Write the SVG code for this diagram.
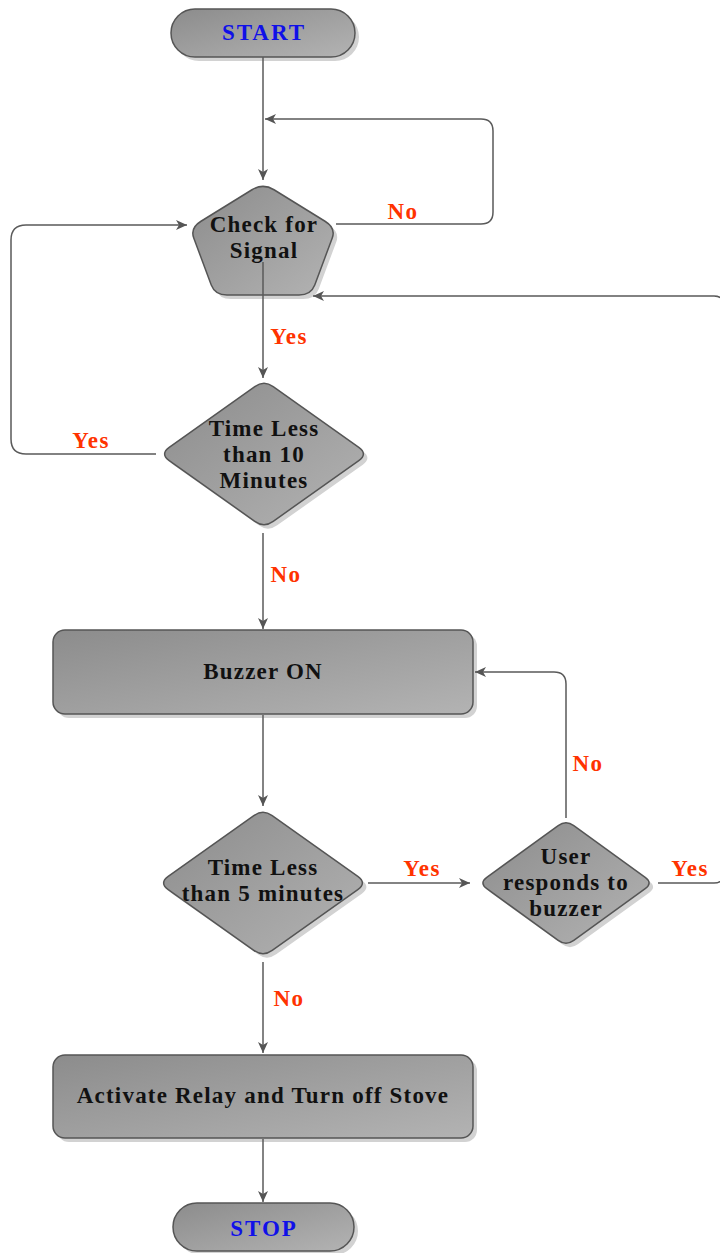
<svg xmlns="http://www.w3.org/2000/svg" width="720" height="1253" viewBox="0 0 720 1253">
<style>
.node{fill:url(#g);stroke:#555;stroke-width:1.5}
.shadow{fill:#d2d2d2}
.t{font-family:"Liberation Serif","Times New Roman",serif;font-weight:bold;font-size:23px;fill:#111;text-anchor:middle;letter-spacing:1.2px}
.term{font-family:"Liberation Serif","Times New Roman",serif;font-weight:bold;font-size:23px;fill:#1010e8;text-anchor:middle;letter-spacing:2px}
.lbl{font-family:"Liberation Serif","Times New Roman",serif;font-weight:bold;font-size:23px;fill:#ff3300;text-anchor:middle;letter-spacing:1.5px}
.c{fill:none;stroke:#5a5a5a;stroke-width:1.5}
</style>
<defs>
<linearGradient id="g" x1="0" y1="0" x2="1" y2="1">
<stop offset="0" stop-color="#8c8c8c"/>
<stop offset="1" stop-color="#b3b3b3"/>
</linearGradient>
<marker id="a" markerUnits="userSpaceOnUse" markerWidth="12" markerHeight="10" refX="11" refY="5" orient="auto">
<path d="M0,0 L11,5 L0,10 L3,5 Z" fill="#555"/>
</marker>
<path id="d1" d="M 9.2,-67.3 L 94.8,-6.7 Q 104,0 94.8,6.7 L 9.2,67.3 Q 0,74 -9.2,67.3 L -94.8,6.7 Q -104,0 -94.8,-6.7 L -9.2,-67.3 Q 0,-74 9.2,-67.3 Z"/>
<path id="d3" d="M 7.8,-57.3 L 79.2,-5.7 Q 87,0 79.2,5.7 L 7.8,57.3 Q 0,63 -7.8,57.3 L -79.2,5.7 Q -87,0 -79.2,-5.7 L -7.8,-57.3 Q 0,-63 7.8,-57.3 Z"/>
</defs>

<g id="start">
<rect class="shadow" x="175" y="13" width="184" height="48" rx="24"/>
<rect class="node" x="171" y="9" width="184" height="48" rx="24"/>
<text class="term" x="264" y="40">START</text>
</g>

<g id="check">
<path class="shadow" transform="translate(4,4)" d="M 274,189.75 L 325,221.25 Q 336,228 332.25,238 L 314.75,285 Q 311,295 299,295 L 227,295 Q 215,295 211.25,285 L 193.75,238 Q 190,228 201,221.25 L 252,189.75 Q 263,183 274,189.75 Z"/>
<path class="node" d="M 274,189.75 L 325,221.25 Q 336,228 332.25,238 L 314.75,285 Q 311,295 299,295 L 227,295 Q 215,295 211.25,285 L 193.75,238 Q 190,228 201,221.25 L 252,189.75 Q 263,183 274,189.75 Z"/>
<text class="t" x="264" y="232">Check for</text>
<text class="t" x="264" y="258">Signal</text>
</g>

<g id="time10">
<use href="#d1" class="shadow" transform="translate(268,458)"/>
<use href="#d1" class="node" transform="translate(264,454)"/>
<text class="t" x="264" y="436">Time Less</text>
<text class="t" x="264" y="462">than 10</text>
<text class="t" x="264" y="488">Minutes</text>
</g>

<g id="buzzer">
<rect class="shadow" x="57" y="634" width="420" height="84" rx="12"/>
<rect class="node" x="53" y="630" width="420" height="84" rx="12"/>
<text class="t" x="263" y="679">Buzzer ON</text>
</g>

<g id="time5">
<use href="#d1" class="shadow" transform="translate(267,887)"/>
<use href="#d1" class="node" transform="translate(263,883)"/>
<text class="t" x="263" y="875">Time Less</text>
<text class="t" x="263" y="901">than 5 minutes</text>
</g>

<g id="user">
<use href="#d3" class="shadow" transform="translate(570,887)"/>
<use href="#d3" class="node" transform="translate(566,883)"/>
<text class="t" x="566" y="864">User</text>
<text class="t" x="566" y="890">responds to</text>
<text class="t" x="566" y="916">buzzer</text>
</g>

<g id="relay">
<rect class="shadow" x="57" y="1059" width="420" height="83" rx="12"/>
<rect class="node" x="53" y="1055" width="420" height="83" rx="12"/>
<text class="t" x="263" y="1103">Activate Relay and Turn off Stove</text>
</g>

<g id="stop">
<rect class="shadow" x="177" y="1207" width="181" height="48" rx="24"/>
<rect class="node" x="173" y="1203" width="181" height="48" rx="24"/>
<text class="term" x="264" y="1236">STOP</text>
</g>

<g id="connectors">
<path class="c" d="M263,57 V180" marker-end="url(#a)"/>
<path class="c" d="M336,224 H481 Q493,224 493,212 V131 Q493,119 481,119 H265" marker-end="url(#a)"/>
<path class="c" d="M263,262 V378" marker-end="url(#a)"/>
<path class="c" d="M156,454 H26 Q11,454 11,439 V240 Q11,225 26,225 H187" marker-end="url(#a)"/>
<path class="c" d="M263,533 V629" marker-end="url(#a)"/>
<path class="c" d="M263,715 V806" marker-end="url(#a)"/>
<path class="c" d="M368,883 H470" marker-end="url(#a)"/>
<path class="c" d="M566,818 V684 Q566,672 554,672 H475" marker-end="url(#a)"/>
<path class="c" d="M658,883 H714 Q724,883 724,873 V306 Q724,296 714,296 H313" marker-end="url(#a)"/>
<path class="c" d="M263,962 V1053" marker-end="url(#a)"/>
<path class="c" d="M263,1139 V1202" marker-end="url(#a)"/>
</g>

<g id="labels">
<text class="lbl" x="403" y="219">No</text>
<text class="lbl" x="289" y="344">Yes</text>
<text class="lbl" x="91" y="448">Yes</text>
<text class="lbl" x="286" y="582">No</text>
<text class="lbl" x="588" y="771">No</text>
<text class="lbl" x="422" y="876">Yes</text>
<text class="lbl" x="690" y="876">Yes</text>
<text class="lbl" x="289" y="1006">No</text>
</g>
</svg>
